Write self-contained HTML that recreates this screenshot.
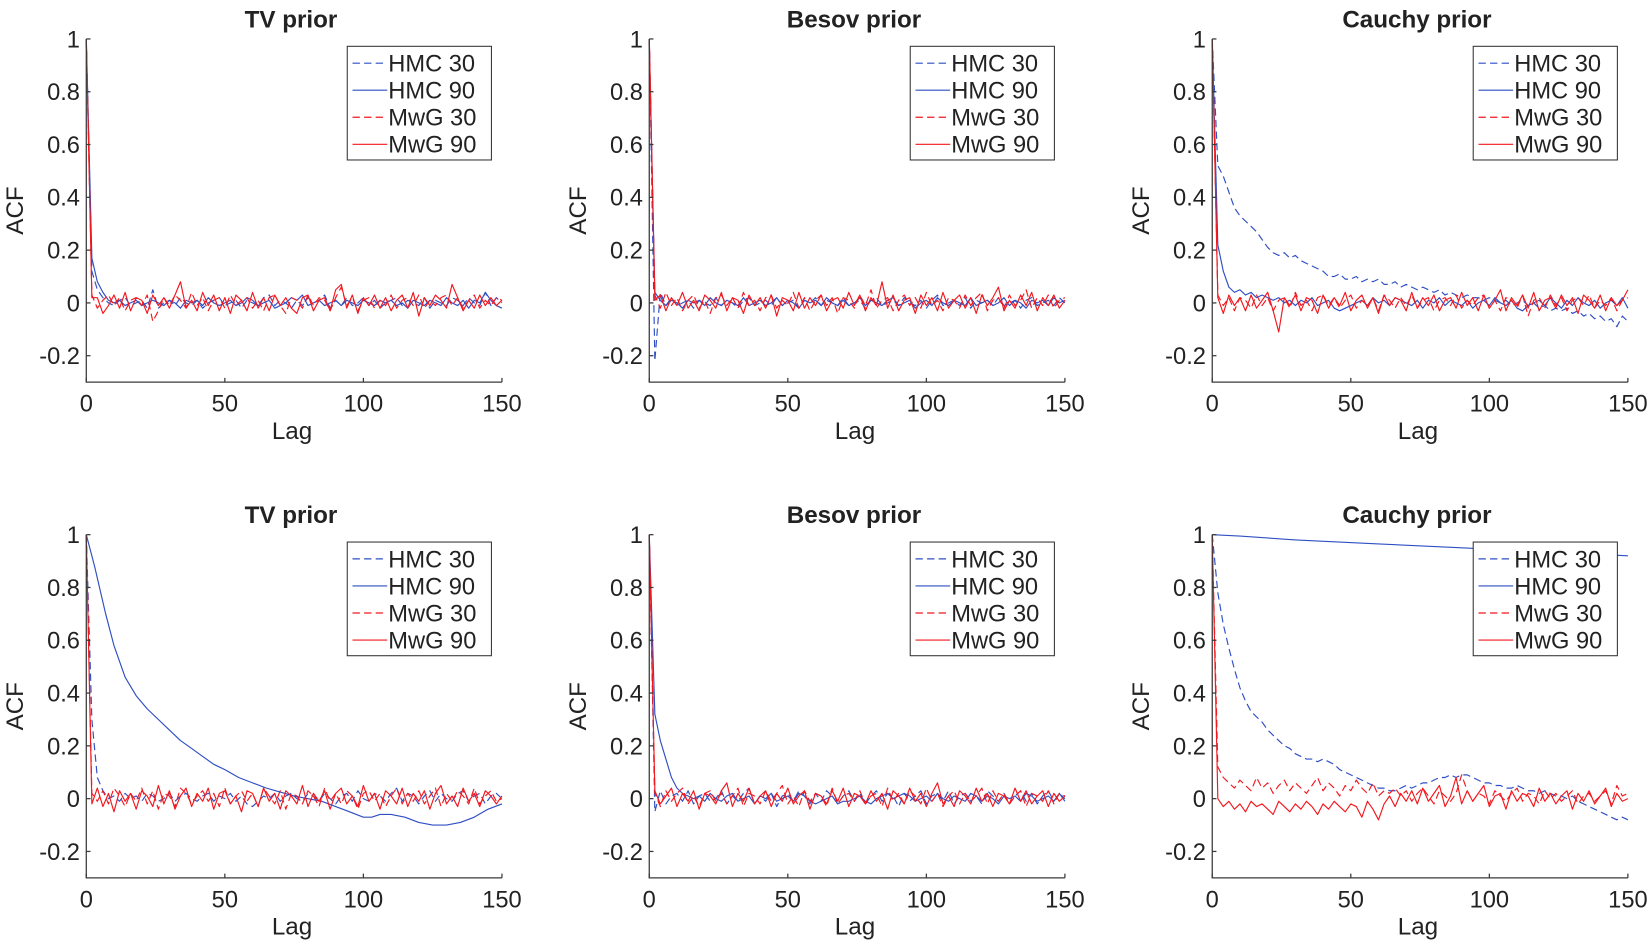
<!DOCTYPE html>
<html><head><meta charset="utf-8"><style>
html,body{margin:0;padding:0;background:#fff;}
svg{display:block;font-family:"Liberation Sans",Arial,sans-serif;}
</style></head><body>
<svg id="fig" width="1650" height="942" viewBox="0 0 1568 895" preserveAspectRatio="none" xmlns="http://www.w3.org/2000/svg"></svg>
<script>
const xTicks=[0,50,100,150];
const yTicks=[1,0.8,0.6,0.4,0.2,0,-0.2];
const yTickLabels=["1","0.8","0.6","0.4","0.2","0","-0.2"];
const titles=["TV prior","Besov prior","Cauchy prior","TV prior","Besov prior","Cauchy prior"];
const legendLabels=["HMC 30","HMC 90","MwG 30","MwG 90"];

const p1_hmc30=[1,.12,.05,.02,0,-.01,.01,.02,-.01,0,.01,-.02,.05,-.02,0,.01,-.01,.02,0,-.01,.01,-.02,0,.01,.02,-.01,0,.01,-.02,.01,0,-.01,.02,.03,-.01,.01,0,-.02,.01,-.01,.02,0,.01,.03,-.02,.01,-.01,.02,-.01,0,.02,-.01,.01,-.02,0,.01,.02,-.01,.01,0,-.01,.02,-.02,.01,0,-.01,.02,.01,-.01,.02,0,-.01,.04,-.01,.02,0];
const p1_hmc90=[1,.17,.08,.04,.01,0,.01,-.01,0,.01,-.01,0,.01,0,-.01,.01,0,-.02,.01,0,.01,-.01,.02,0,-.01,0,.01,-.01,0,.02,.01,-.01,0,.01,-.02,-.01,0,.02,.01,.03,-.01,0,.01,-.01,0,.01,-.01,.01,0,-.01,.01,0,-.01,.01,0,.01,-.01,0,-.02,.01,0,-.01,.01,0,-.01,.02,0,-.01,.01,-.02,.01,0,.04,.01,-.01,-.02];
const p1_mwg30=[1,.03,-.02,.01,.03,-.01,.02,-.03,.01,.02,-.01,.03,-.07,-.03,.02,-.01,.03,.01,-.02,.04,-.01,.02,-.03,.01,.02,-.02,.03,-.01,.01,.02,-.02,.01,-.03,.02,.03,-.01,-.04,.02,.01,-.02,.03,-.01,.02,.01,-.03,.02,.06,-.01,.02,-.03,.01,.02,-.02,.01,-.01,.03,-.02,.01,.02,-.01,.03,-.02,.01,-.01,.02,.03,-.01,.02,-.02,.01,.03,-.02,.01,-.01,.02,.01];
const p1_mwg90=[1,.02,.02,-.04,-.01,.03,-.02,.04,-.03,.02,.01,-.04,.03,-.01,.02,-.02,.03,.08,-.02,.01,-.03,.04,-.01,.03,-.03,.02,-.04,.03,.01,-.03,.04,-.02,.02,-.03,.03,-.01,.02,-.02,-.04,.02,.03,-.03,.01,.02,-.03,.05,.07,-.02,.03,-.04,.02,-.01,.03,-.02,.02,-.03,.01,.03,-.02,.04,-.05,.02,-.01,.03,.01,-.02,.07,.02,-.03,.01,-.02,.03,-.01,.02,-.01,.01];

const p2_hmc30=[1,-.22,.04,-.01,.02,-.01,0,.01,-.02,.01,0,-.01,.02,-.01,.01,0,-.02,.01,.02,-.01,0,.01,-.01,.02,-.01,0,.01,-.02,.01,0,.02,-.01,.01,0,-.01,.02,-.01,0,.01,-.02,.01,.02,-.01,0,.01,-.01,.02,0,-.01,.01,-.02,.01,.03,-.01,0,.01,-.01,.02,-.02,.01,0,.01,-.01,.02,-.01,0,.01,-.02,.01,.02,-.01,0,.01,-.01,.02,0];
const p2_hmc90=[1,.04,.01,-.01,.01,0,-.02,.01,0,.01,-.01,.02,0,-.01,.01,0,-.01,.02,-.01,0,.01,-.01,0,.02,-.01,.01,0,-.02,.01,0,.01,-.01,.02,0,-.01,.01,-.01,0,.02,-.01,.01,0,-.01,.01,.02,-.01,0,.01,-.02,0,.01,-.01,.02,0,-.01,.01,0,-.01,.02,-.01,0,.01,-.01,0,.02,-.01,.01,0,-.02,.01,0,.01,-.01,.02,0,.01];
const p2_mwg30=[1,.03,-.02,.04,-.01,.02,-.03,.01,.03,-.02,.01,-.04,.02,.03,-.01,.02,-.02,.04,-.01,.01,-.03,.02,.03,-.02,.01,-.01,.04,-.02,.02,-.03,.01,.03,-.01,.02,-.04,.02,.01,-.02,.03,-.01,.05,-.02,.01,.02,-.03,.01,.03,-.01,.02,-.02,.04,-.01,.01,-.03,.02,.01,-.02,.03,-.01,.02,.04,-.03,.01,.02,-.02,.03,-.01,.01,.05,-.02,.02,-.01,.03,-.02,.01,.02];
const p2_mwg90=[1,.01,.03,-.03,.02,-.01,.04,-.02,.01,-.03,.03,.01,-.02,.04,-.03,.02,.01,-.04,.03,-.01,.02,-.02,.03,-.05,.02,.01,-.03,.04,-.02,.02,-.01,.03,-.03,.01,.02,-.02,.04,-.01,.03,-.03,.02,-.01,.08,-.02,.03,-.03,.01,.02,-.04,.03,-.01,.02,-.03,.04,-.02,.01,.03,-.02,.02,-.04,.03,-.01,.02,.06,-.03,.01,-.02,.03,-.01,.04,-.03,.02,-.01,.03,-.02,.01];

const p3_hmc30=[1,.52,.48,.42,.36,.33,.31,.29,.27,.24,.21,.19,.18,.19,.17,.18,.16,.15,.14,.13,.12,.1,.1,.11,.09,.09,.1,.08,.09,.08,.09,.07,.07,.08,.06,.07,.06,.05,.06,.05,.04,.05,.03,.04,.03,.02,.03,.02,.02,.01,.02,.01,0,.01,-.01,0,.01,-.01,0,-.02,-.01,-.03,-.02,-.03,-.02,-.04,-.03,-.05,-.04,-.06,-.05,-.07,-.06,-.09,-.05,-.07];
const p3_hmc90=[1,.22,.12,.06,.04,.05,.03,.04,.02,.03,.02,.01,.02,0,.01,-.01,.01,0,.02,-.01,0,.01,-.02,-.03,-.02,-.01,0,.01,-.01,.02,0,.01,-.01,.02,.01,0,-.01,.01,-.02,.01,0,.02,-.01,.01,0,-.01,.01,-.02,0,.01,-.01,.02,0,-.01,.01,-.02,-.03,-.01,0,.01,-.01,.02,0,-.02,.01,-.01,.02,0,-.01,.01,-.02,0,.01,-.01,.02,-.02];
const p3_mwg30=[1,.03,-.01,.02,-.03,.02,.01,-.02,.03,-.01,.02,-.03,.01,.02,-.02,.04,-.01,.01,-.03,.02,.03,-.01,.02,-.02,.01,.03,-.02,.01,-.01,.02,-.03,.03,.01,-.02,.02,-.01,.03,-.02,.01,.02,-.03,.01,.02,-.01,.03,-.02,.01,-.01,.02,.03,-.02,.01,-.03,.02,.01,-.02,.03,-.05,.01,.02,-.02,.03,-.01,.02,-.03,.01,.02,-.01,.03,-.02,.01,-.01,.02,-.03,.01,.02];
const p3_mwg90=[1,.02,-.04,.03,-.01,.02,-.03,.03,-.02,.01,.04,-.03,-.11,.02,-.01,.03,-.03,.02,.01,-.04,.03,-.02,.02,-.01,.04,-.03,.01,.03,-.02,.02,-.04,.03,-.01,.02,.01,-.03,.04,-.02,.02,-.01,.03,-.03,.01,.02,-.02,.04,-.01,.02,-.03,.03,-.02,.01,.05,-.03,.02,-.01,.03,-.02,.04,-.03,.01,.02,-.02,.03,-.01,.02,-.04,.03,.01,-.02,.03,-.03,.02,-.01,.01,.05];

const p4_hmc30=[1,.3,.08,.03,0,.01,-.01,.02,0,.01,-.01,.02,.01,-.01,0,.02,-.01,.01,.02,0,-.01,.01,.02,-.01,.01,0,.02,-.01,.01,-.02,-.03,-.01,.01,0,.02,-.01,.01,.02,0,-.01,.02,.01,-.01,.02,0,-.02,.01,.02,-.01,.03,0,-.01,.02,.01,-.01,.02,.04,-.01,.02,.01,-.02,.01,.03,-.01,.02,0,-.01,.02,.03,-.01,.01,.02,-.02,.01,.02,0];
const p4_hmc90_lags=[0,3,7,10,14,18,22,26,30,34,38,42,46,50,55,60,65,70,75,80,85,90,95,100,103,106,110,115,120,125,130,135,140,145,150];
const p4_hmc90=[1,.88,.7,.58,.46,.39,.34,.3,.26,.22,.19,.16,.13,.11,.08,.06,.04,.025,.01,0,-.01,-.03,-.05,-.07,-.07,-.06,-.06,-.07,-.09,-.1,-.1,-.09,-.07,-.04,-.02];
const p4_mwg30=[1,.02,-.01,.03,-.02,.04,.01,-.03,.02,-.01,.04,-.02,.03,-.04,.02,.01,-.03,.04,.02,-.02,.01,.03,-.01,.02,-.03,.04,-.02,.01,.03,-.01,.02,-.03,.04,.01,-.02,.03,-.04,.02,.01,-.02,.03,.01,-.03,.04,-.01,.02,-.02,.03,.01,-.04,.02,.03,-.01,.02,-.03,.01,.04,-.02,.02,-.01,.03,-.02,.01,.04,-.03,.02,-.01,.03,.01,-.02,.04,-.02,.01,.03,-.01,0];
const p4_mwg90=[1,-.02,.04,-.03,.02,-.05,.03,-.01,.02,-.04,.03,.01,-.03,.05,-.02,.03,-.04,.01,.04,-.03,.02,-.01,.04,-.04,.02,.03,-.02,.01,-.05,.03,.02,-.03,.04,-.01,.02,-.04,.03,.01,-.02,.05,-.03,.02,-.01,.03,-.04,.02,.04,-.02,.01,-.03,.05,-.01,.02,-.04,.03,.01,-.02,.04,-.03,.02,-.01,.03,-.04,.02,.05,-.02,.01,-.03,.04,-.01,.02,-.03,.03,.01,-.02,.01];

const p5_hmc30=[1,-.05,.03,-.02,.01,.02,-.01,.03,-.02,.01,.02,-.01,0,.03,-.02,.01,-.01,.02,.04,-.02,.01,-.01,.02,-.03,.01,.02,-.01,.03,.01,-.02,.02,-.01,.03,.01,-.02,.01,.03,-.01,.02,-.02,.01,.03,-.01,.02,.01,-.03,.02,-.01,.01,.03,-.02,.01,.02,-.01,.03,-.02,.01,.02,-.01,.01,-.02,.03,.01,-.01,.02,-.02,.01,.03,-.01,.02,-.02,.01,.03,-.01,.02,0];
const p5_hmc90=[1,.32,.22,.15,.08,.04,.02,.01,0,.01,-.01,.02,0,-.01,.01,.02,-.01,0,.01,-.02,.01,0,.02,-.01,0,.01,-.01,.02,.01,-.01,-.02,-.01,0,.01,-.02,-.01,-.01,0,.01,-.01,-.02,0,.01,.02,0,.01,.02,.01,-.01,0,.01,-.01,.02,0,-.01,.01,0,-.01,.02,.01,-.01,.01,0,-.02,.01,0,.01,-.01,.02,.01,-.01,0,.01,-.01,.02,-.01];
const p5_mwg30=[1,.02,-.03,.03,-.01,.02,.04,-.02,.01,-.03,.02,.03,-.01,.02,-.02,.01,.04,-.03,.02,.01,-.02,.03,-.01,.02,.05,-.02,.01,-.03,.03,-.01,.02,.01,-.03,.04,-.02,.01,.02,-.01,.03,-.02,.01,.02,-.03,.04,-.01,.02,-.02,.03,.01,-.02,.04,-.01,.02,-.03,.01,.03,-.02,.02,-.01,.01,.04,-.02,.03,-.01,.02,-.02,.01,.03,-.03,.02,.01,-.01,.03,-.02,.02,.01];
const p5_mwg90=[1,.03,-.02,.01,.04,-.03,.02,-.01,.03,-.04,.02,.01,-.02,.03,.06,-.03,.02,-.01,.04,-.02,.01,.03,-.03,.02,-.01,.04,-.02,.01,.03,-.04,.02,.01,-.02,.03,-.01,.04,-.03,.02,.01,-.02,.03,-.01,.02,-.04,.03,.01,-.02,.04,-.01,.02,-.03,.02,.06,-.02,.01,-.03,.03,.01,-.02,.04,-.01,.02,-.03,.02,.01,-.02,.04,-.01,.03,-.02,.01,.03,-.03,.02,-.01,.01];

const p6_hmc30=[1,.78,.66,.57,.49,.42,.37,.33,.31,.29,.26,.24,.22,.2,.19,.17,.16,.15,.15,.14,.15,.14,.13,.11,.1,.09,.08,.07,.06,.05,.04,.04,.03,.03,.04,.05,.04,.05,.06,.06,.07,.08,.08,.09,.08,.09,.09,.08,.07,.06,.06,.05,.05,.04,.04,.05,.04,.03,.03,.02,.03,.02,.01,.01,0,.01,-.01,-.02,-.03,-.04,-.05,-.06,-.07,-.08,-.07,-.08];
const p6_hmc90_lags=[0,10,30,60,90,120,150];
const p6_hmc90=[1,.995,.98,.965,.95,.935,.92];
const p6_mwg30=[1,.12,.08,.06,.04,.07,.05,.03,.08,.04,.06,.02,.05,.07,.03,.06,.04,.02,.05,.08,.03,.06,.04,.01,.05,.03,.07,.04,.02,.06,.01,.03,.02,.04,.01,.03,-.01,.02,.04,.01,-.02,.03,.01,-.01,.02,.09,.03,-.01,.02,.01,-.02,.03,.01,-.01,.02,.04,-.01,.02,.01,-.02,.03,0,.02,-.01,.01,.03,-.02,.01,.02,-.01,.01,.03,-.02,.05,.01,.02];
const p6_mwg90=[1,0,-.03,-.01,-.04,-.02,-.05,-.01,-.03,-.02,-.04,-.06,-.01,-.03,-.05,-.02,-.04,-.01,-.03,-.06,-.02,-.04,-.01,-.03,-.05,-.02,-.03,-.07,-.01,-.04,-.08,-.02,.01,-.03,.02,-.01,.03,-.02,.04,-.01,.02,.05,-.03,.01,.08,-.02,.03,-.01,.02,.05,-.03,.01,.02,-.04,.03,-.01,.02,.01,-.03,.04,-.01,.02,-.02,.01,.03,-.04,.02,-.01,.03,-.02,.01,.04,-.03,.02,-.01,0];

const NS="http://www.w3.org/2000/svg";
const svg=document.getElementById('fig');
const BLUE="#2f4fc4", RED="#f2181e", AX="#3a3a3a";
function mk(tag,attrs,parent){const e=document.createElementNS(NS,tag);for(const k in attrs)e.setAttribute(k,attrs[k]);(parent||svg).appendChild(e);return e;}
function txt(s,attrs,parent){const e=mk('text',attrs,parent);e.textContent=s;return e;}

const panels=[
 {s:[[p1_hmc30,null],[p1_hmc90,null],[p1_mwg30,null],[p1_mwg90,null]]},
 {s:[[p2_hmc30,null],[p2_hmc90,null],[p2_mwg30,null],[p2_mwg90,null]]},
 {s:[[p3_hmc30,null],[p3_hmc90,null],[p3_mwg30,null],[p3_mwg90,null]]},
 {s:[[p4_hmc30,null],[p4_hmc90,p4_hmc90_lags],[p4_mwg30,null],[p4_mwg90,null]]},
 {s:[[p5_hmc30,null],[p5_hmc90,null],[p5_mwg30,null],[p5_mwg90,null]]},
 {s:[[p6_hmc30,null],[p6_hmc90,p6_hmc90_lags],[p6_mwg30,null],[p6_mwg90,null]]}
];
const colX0=[82,617,1152], rowY1=[37,508];
const styles=[{c:BLUE,d:"7,4"},{c:BLUE,d:null},{c:RED,d:"7,4"},{c:RED,d:null}];

panels.forEach((p,pi)=>{
  const x0=colX0[pi%3], yOne=rowY1[Math.floor(pi/3)];
  const xs=l=>x0+l*(395/150);
  const ys=v=>yOne+(1-v)*250.8;
  const g=mk('g',{});
  
  
  p.s.forEach((ser,si)=>{
    const vals=ser[0], lags=ser[1];
    const pts=vals.map((v,i)=>xs(lags?lags[i]:i*2).toFixed(1)+','+ys(v).toFixed(1)).join(' ');
    const pl=mk('polyline',{points:pts,fill:'none',stroke:styles[si].c,'stroke-width':1.1,'stroke-linejoin':'round'},g);
    if(styles[si].d)pl.setAttribute('stroke-dasharray',styles[si].d);
    
    
  });
  const yb=ys(-0.3), xe=xs(150);
  const ax=mk('path',{d:`M${x0},${ys(1)}V${yb}H${xe}`,fill:'none',stroke:AX,'stroke-width':1.2},g);
  
  
  yTicks.forEach((t,i)=>{
    mk('line',{x1:x0,x2:x0+4,y1:ys(t),y2:ys(t),stroke:AX,'stroke-width':1.2},g);
    const l=txt(yTickLabels[i],{x:x0-6,y:ys(t)+8,'text-anchor':'end','font-size':22.5,fill:'#222'},g);
    
    
  });
  xTicks.forEach(t=>{
    mk('line',{x1:xs(t),x2:xs(t),y1:yb,y2:yb-4,stroke:AX,'stroke-width':1.2},g);
    const l=txt(String(t),{x:xs(t),y:yb+28,'text-anchor':'middle','font-size':22.5,fill:'#222'},g);
    
    
  });
  const xt=txt('Lag',{x:(x0+xe)/2-2,y:yb+54,'text-anchor':'middle','font-size':23,fill:'#222'},g);
  
  
  const yt=txt('ACF',{x:0,y:0,'text-anchor':'middle','font-size':23,fill:'#222',transform:`translate(${x0-60},${yOne+163}) rotate(-90)`},g);
  
  
  const tt=txt(titles[pi],{x:(x0+xe)/2-3,y:yOne-11,'text-anchor':'middle','font-size':23,'font-weight':'bold',fill:'#222'},g);
  
  
  const lx=x0+248, ly=yOne+7;
  const lg=mk('g',{},g);
  
  
  mk('rect',{x:lx,y:ly,width:137,height:108,fill:'#fff',stroke:'#333','stroke-width':1},lg);
  legendLabels.forEach((lab,i)=>{
    const yy=ly+16+i*25.7;
    const ln=mk('line',{x1:lx+5,x2:lx+38,y1:yy,y2:yy,stroke:styles[i].c,'stroke-width':1.1},lg);
    if(styles[i].d)ln.setAttribute('stroke-dasharray',styles[i].d);
    const t=txt(lab,{x:lx+39,y:yy+8,'font-size':22.5,fill:'#222'},lg);
    
    
  });
});
</script>
</body></html>
